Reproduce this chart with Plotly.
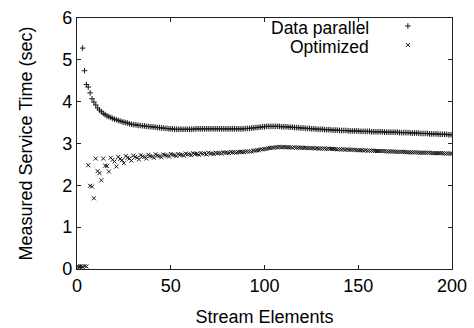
import plotly.graph_objects as go

elements = list(range(1, 201))

data_parallel = [
    0.05, 0.05, 5.28, 4.74, 4.41, 4.35, 4.21, 4.07, 3.99, 3.92,
    3.85, 3.80, 3.76, 3.72, 3.69, 3.66, 3.64, 3.62, 3.60, 3.58,
    3.57, 3.55, 3.54, 3.52, 3.51, 3.50, 3.49, 3.47, 3.46, 3.45,
    3.45, 3.44, 3.43, 3.43, 3.42, 3.42, 3.41, 3.41, 3.40, 3.40,
    3.39, 3.39, 3.38, 3.38, 3.37, 3.37, 3.36, 3.36, 3.35, 3.35,
    3.35, 3.34, 3.34, 3.34, 3.34, 3.34, 3.34, 3.34, 3.34, 3.34,
    3.34, 3.34, 3.35, 3.35, 3.35, 3.35, 3.35, 3.35, 3.35, 3.35,
    3.35, 3.35, 3.35, 3.35, 3.35, 3.35, 3.35, 3.35, 3.35, 3.35,
    3.35, 3.35, 3.35, 3.35, 3.35, 3.35, 3.35, 3.35, 3.35, 3.36,
    3.36, 3.36, 3.37, 3.37, 3.38, 3.38, 3.39, 3.39, 3.40, 3.40,
    3.41, 3.41, 3.41, 3.41, 3.41, 3.41, 3.41, 3.41, 3.40, 3.40,
    3.40, 3.40, 3.39, 3.39, 3.39, 3.38, 3.38, 3.38, 3.37, 3.37,
    3.37, 3.36, 3.36, 3.36, 3.35, 3.35, 3.35, 3.34, 3.34, 3.34,
    3.34, 3.33, 3.33, 3.33, 3.33, 3.32, 3.32, 3.32, 3.32, 3.31,
    3.31, 3.31, 3.31, 3.31, 3.30, 3.30, 3.30, 3.30, 3.30, 3.30,
    3.29, 3.29, 3.29, 3.29, 3.29, 3.29, 3.28, 3.28, 3.28, 3.28,
    3.28, 3.28, 3.28, 3.27, 3.27, 3.27, 3.27, 3.27, 3.27, 3.27,
    3.27, 3.26, 3.26, 3.26, 3.26, 3.26, 3.26, 3.25, 3.25, 3.25,
    3.25, 3.25, 3.24, 3.24, 3.24, 3.24, 3.24, 3.23, 3.23, 3.23,
    3.23, 3.23, 3.22, 3.22, 3.22, 3.22, 3.22, 3.21, 3.21, 3.21,
]

optimized = [
    0.05, 0.06, 0.05, 0.07, 0.06, 2.48, 1.99, 1.97, 1.69, 2.64,
    2.34, 2.29, 2.12, 2.64, 2.47, 2.46, 2.33, 2.66, 2.61, 2.57,
    2.45, 2.68, 2.63, 2.60, 2.53, 2.70, 2.66, 2.64, 2.59, 2.71,
    2.68, 2.66, 2.62, 2.72, 2.69, 2.68, 2.64, 2.73, 2.70, 2.69,
    2.66, 2.74, 2.71, 2.70, 2.67, 2.74, 2.72, 2.71, 2.69, 2.75,
    2.73, 2.72, 2.70, 2.75, 2.73, 2.73, 2.71, 2.76, 2.74, 2.74,
    2.72, 2.77, 2.75, 2.75, 2.73, 2.77, 2.76, 2.76, 2.74, 2.78,
    2.76, 2.76, 2.75, 2.78, 2.77, 2.77, 2.76, 2.79, 2.78, 2.78,
    2.77, 2.80, 2.79, 2.79, 2.78, 2.80, 2.80, 2.80, 2.79, 2.81,
    2.81, 2.81, 2.81, 2.83, 2.83, 2.84, 2.84, 2.86, 2.86, 2.87,
    2.87, 2.89, 2.89, 2.90, 2.90, 2.91, 2.91, 2.92, 2.91, 2.92,
    2.91, 2.91, 2.91, 2.91, 2.90, 2.91, 2.90, 2.90, 2.90, 2.90,
    2.89, 2.90, 2.89, 2.89, 2.89, 2.89, 2.88, 2.89, 2.88, 2.88,
    2.88, 2.88, 2.87, 2.88, 2.87, 2.87, 2.87, 2.87, 2.86, 2.86,
    2.86, 2.86, 2.85, 2.86, 2.85, 2.85, 2.85, 2.85, 2.84, 2.84,
    2.84, 2.84, 2.83, 2.84, 2.83, 2.83, 2.83, 2.83, 2.82, 2.82,
    2.82, 2.82, 2.82, 2.82, 2.81, 2.81, 2.81, 2.81, 2.81, 2.80,
    2.80, 2.80, 2.80, 2.80, 2.80, 2.79, 2.79, 2.79, 2.79, 2.79,
    2.79, 2.78, 2.78, 2.78, 2.78, 2.78, 2.78, 2.78, 2.77, 2.77,
    2.77, 2.77, 2.77, 2.77, 2.77, 2.76, 2.76, 2.76, 2.76, 2.76,
]

series_names = ["Data parallel", "Optimized"]
x_ticks = [0, 50, 100, 150, 200]
y_ticks = [0, 1, 2, 3, 4, 5, 6]

FONT = "Liberation Sans, Arial, sans-serif"
MARK = "#1a1a1a"
FS = 18

fig = go.Figure()
fig.add_trace(go.Scatter(
    x=elements, y=data_parallel, mode="markers", name=" ",
    marker=dict(symbol="cross-thin", size=4, color=MARK,
                line=dict(width=1, color=MARK)),
))
fig.add_trace(go.Scatter(
    x=elements, y=optimized, mode="markers", name=" ",
    marker=dict(symbol="x-thin", size=4, color=MARK,
                line=dict(width=1, color=MARK)),
))

axis_common = dict(
    showgrid=False, zeroline=False, showline=True, linecolor="#222",
    linewidth=1.3, mirror="ticks", ticks="inside", ticklen=4, tickwidth=1,
    tickcolor="#222", tickfont=dict(family=FONT, size=FS, color="black"),
    automargin=False, ticklabeloverflow="allow",
)

fig.update_layout(
    width=474, height=328,
    margin=dict(l=77, r=22, t=11, b=59),
    paper_bgcolor="white", plot_bgcolor="white",
    font=dict(family=FONT, color="black"),
    xaxis=dict(range=[0, 200], tickvals=x_ticks, ticktext=[str(v) for v in x_ticks],
               title=dict(text="Stream Elements", font=dict(size=FS)),
               **axis_common),
    yaxis=dict(range=[0, 6], tickvals=y_ticks, ticktext=[str(v) for v in y_ticks],
               title=dict(text="Measured Service Time (sec)", font=dict(size=FS), standoff=24),
               **axis_common),
    showlegend=True,
    legend=dict(x=0.829, y=1.026, xanchor="left", yanchor="top",
                bgcolor="rgba(0,0,0,0)", font=dict(size=11),
                tracegroupgap=0, itemwidth=30),
)

for i, name in enumerate(series_names):
    fig.add_annotation(
        x=0.781, y=0.960 - i * 0.074, xref="paper", yref="paper",
        xanchor="right", yanchor="middle", showarrow=False,
        text=name, font=dict(family=FONT, size=17.5, color="black"),
        borderpad=0,
    )

fig.write_html("out.html", config={"displayModeBar": False},
               post_script="document.body.style.margin='0';")
